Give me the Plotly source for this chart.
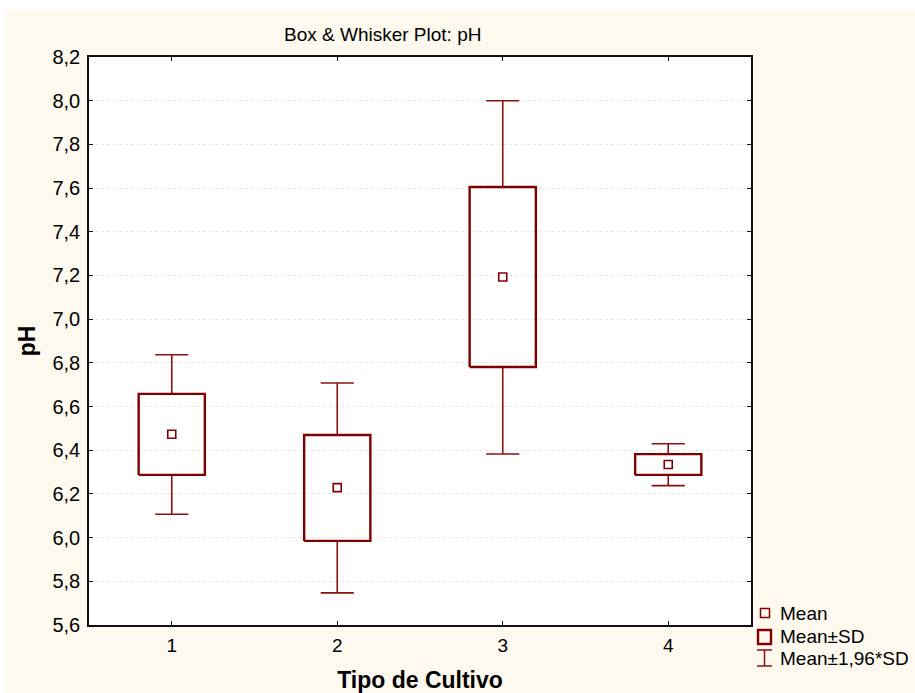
import plotly.graph_objects as go

# ---- data ----
categories = ["1", "2", "3", "4"]
x_pos = [1, 2, 3, 4]
means = [6.473, 6.229, 7.193, 6.335]
sd_low = [6.287, 5.985, 6.781, 6.287]
sd_high = [6.658, 6.470, 7.605, 6.382]
whisk_low = [6.107, 5.747, 6.383, 6.238]
whisk_high = [6.837, 6.708, 8.000, 6.430]
y_ticks = [5.6, 5.8, 6.0, 6.2, 6.4, 6.6, 6.8, 7.0, 7.2, 7.4, 7.6, 7.8, 8.0, 8.2]

DARK = "#800000"
WHISK = "#8B1010"
CREAM = "#FEF9EF"
FONT = "Arial, Liberation Sans, sans-serif"

BOX_HW = 0.2   # half width of box (category units)
CAP_HW = 0.1   # half width of whisker caps

fig = go.Figure()

# whiskers
wx, wy = [], []
for c, lo, hi, b0, b1 in zip(x_pos, whisk_low, whisk_high, sd_low, sd_high):
    wx += [c, c, None, c - CAP_HW, c + CAP_HW, None, c, c, None, c - CAP_HW, c + CAP_HW, None]
    wy += [b1, hi, None, hi, hi, None, b0, lo, None, lo, lo, None]
fig.add_trace(go.Scatter(x=wx, y=wy, mode="lines", line=dict(color=WHISK, width=1.6),
                         name="Mean±1,96*SD", showlegend=False, hoverinfo="skip"))

# boxes (mean ± SD)
bx, by = [], []
for c, lo, hi in zip(x_pos, sd_low, sd_high):
    bx += [c - BOX_HW, c + BOX_HW, c + BOX_HW, c - BOX_HW, c - BOX_HW, None]
    by += [lo, lo, hi, hi, lo, None]
fig.add_trace(go.Scatter(x=bx, y=by, mode="lines", line=dict(color=DARK, width=2.4),
                         name="Mean±SD", showlegend=False, hoverinfo="skip"))

# means
fig.add_trace(go.Scatter(x=x_pos, y=means, mode="markers",
                         marker=dict(symbol="square-open", size=8, color=DARK,
                                     line=dict(width=1.6, color=DARK)),
                         name="Mean", showlegend=False))

# ---- pixel helpers for layout decorations ----
L, R, T, B = 89, 751, 57, 625
W, H = 915, 693
def px(x):
    return (x - L) / (R - L)
def py(y):
    return (B - y) / (B - T)

shapes = []
# white strips at top and left of the page (cream panel starts at x=5, y=10)
shapes.append(dict(type="rect", xref="paper", yref="paper", x0=px(-5), x1=px(W + 5),
                   y0=py(10), y1=py(-5), fillcolor="white", line=dict(width=0), layer="below"))
shapes.append(dict(type="rect", xref="paper", yref="paper", x0=px(-5), x1=px(5),
                   y0=py(H + 5), y1=py(-5), fillcolor="white", line=dict(width=0), layer="below"))

# legend symbols
shapes.append(dict(type="rect", xref="paper", yref="paper", x0=px(760.5), x1=px(769.5),
                   y0=py(617.5), y1=py(608.5), line=dict(color=DARK, width=1.5)))
shapes.append(dict(type="rect", xref="paper", yref="paper", x0=px(758), x1=px(771),
                   y0=py(644), y1=py(630), line=dict(color=DARK, width=2.4)))
shapes.append(dict(type="line", xref="paper", yref="paper", x0=px(764.5), x1=px(764.5),
                   y0=py(666), y1=py(650), line=dict(color=WHISK, width=1.5)))
shapes.append(dict(type="line", xref="paper", yref="paper", x0=px(757), x1=px(772),
                   y0=py(650), y1=py(650), line=dict(color=WHISK, width=1.5)))
shapes.append(dict(type="line", xref="paper", yref="paper", x0=px(757), x1=px(772),
                   y0=py(666), y1=py(666), line=dict(color=WHISK, width=1.5)))

annotations = []
for label, yc in [("Mean", 613), ("Mean±SD", 636), ("Mean±1,96*SD", 658)]:
    annotations.append(dict(text=label, xref="paper", yref="paper", x=px(778), y=py(yc),
                            xanchor="left", yanchor="middle", showarrow=False,
                            font=dict(family=FONT, size=19, color="black")))
annotations.append(dict(text="Box & Whisker Plot: pH", xref="paper", yref="paper",
                        x=px(382), y=py(34), xanchor="center", yanchor="middle",
                        showarrow=False, font=dict(family=FONT, size=19, color="black")))

fig.update_layout(
    width=W, height=H,
    margin=dict(l=L, r=W - R, t=T, b=H - B, pad=0, autoexpand=False),
    paper_bgcolor=CREAM, plot_bgcolor="white",
    separators=",.",
    showlegend=False,
    shapes=shapes, annotations=annotations,
    font=dict(family=FONT, size=19, color="black"),
)
fig.update_xaxes(
    range=[0.5, 4.5], tickvals=x_pos, ticktext=categories,
    showgrid=False, zeroline=False, automargin=False,
    showline=True, linecolor="#111", linewidth=1.6, mirror="ticks",
    ticks="inside", ticklen=4, tickcolor="#111", tickwidth=1,
    tickfont=dict(family=FONT, size=19), ticklabelstandoff=2,
    title=dict(text="<b>Tipo de Cultivo</b>", font=dict(family=FONT, size=23), standoff=20),
)
fig.update_yaxes(
    range=[5.6, 8.2], tickvals=y_ticks, tickformat=".1f",
    showgrid=True, gridcolor="#e6e6e6", griddash="dot", gridwidth=1,
    zeroline=False, automargin=False,
    showline=True, linecolor="#111", linewidth=1.6, mirror="ticks",
    ticks="inside", ticklen=4, tickcolor="#111", tickwidth=1,
    tickfont=dict(family=FONT, size=20), ticklabelstandoff=3,
    title=dict(text="<b>pH</b>", font=dict(family=FONT, size=23), standoff=10),
)

fig.write_html("out.html", config={"displayModeBar": False},
               post_script="document.body.style.margin='0';document.body.style.padding='0';")
